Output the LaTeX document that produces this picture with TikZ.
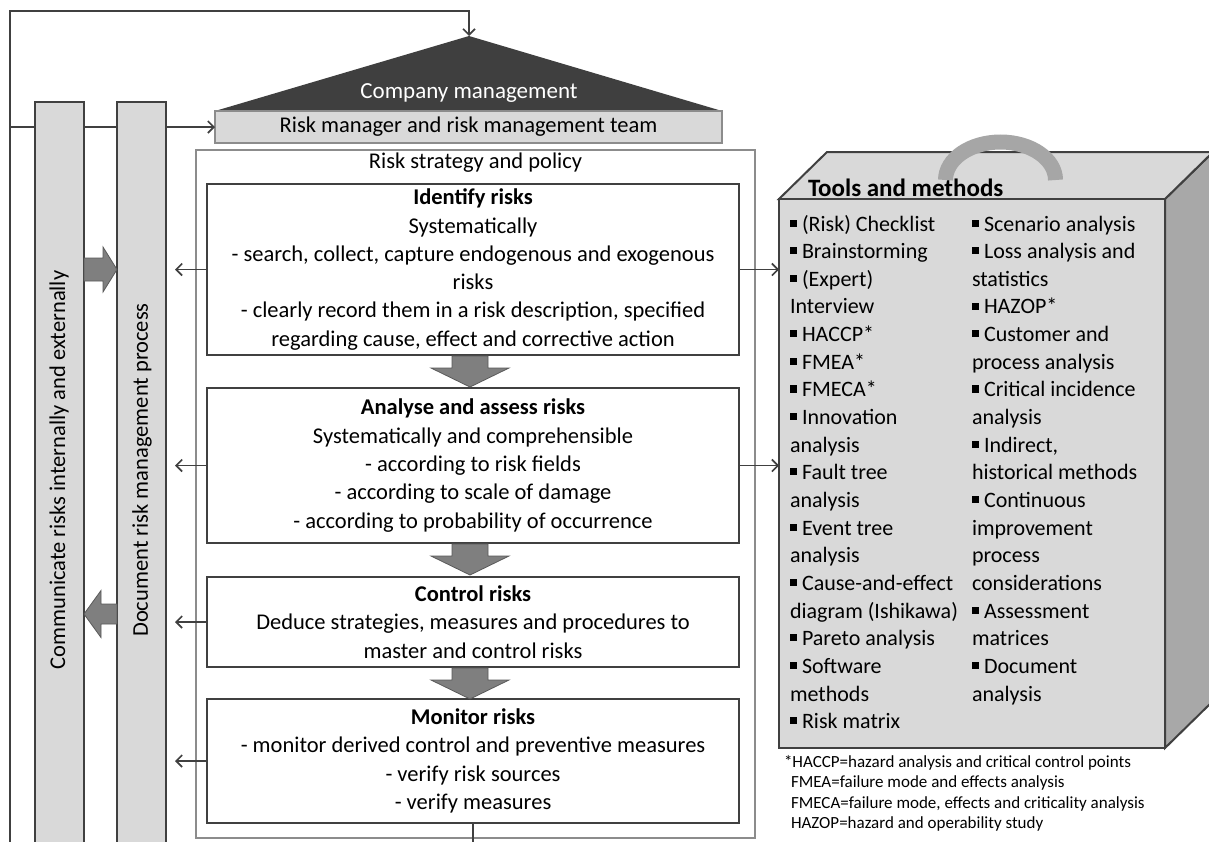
\documentclass[tikz,border=0pt]{standalone}
\usepackage{fontspec}
\setmainfont{Carlito}
\usetikzlibrary{arrows.meta}
\definecolor{ink}{HTML}{404040}
\definecolor{roof}{HTML}{3F3F3F}
\definecolor{panel}{HTML}{D9D9D9}
\definecolor{sideface}{HTML}{A8A8A8}
\definecolor{handlegray}{HTML}{A6A6A6}
\definecolor{fatgray}{HTML}{7F7F7F}
\definecolor{fatedge}{HTML}{5A5A5A}
\definecolor{frame}{HTML}{8C8C8C}
\newcommand\sqb{\rule[0.2em]{0.32em}{0.32em}}
\begin{document}
\begin{tikzpicture}[x=1pt,y=-1pt,
  every node/.style={font=\fontsize{22.5}{28.3}\selectfont, inner sep=0pt, outer sep=0pt},
  link/.style={draw=ink, line width=1.6pt, -{Straight Barb[length=6pt,width=12pt,line width=1.6pt]}},
  plain/.style={draw=ink, line width=1.6pt},
  stepbox/.style={draw=ink, line width=2pt, fill=white, minimum width=532pt, align=center},
  sidebar/.style={draw=ink, line width=2pt, fill=panel, minimum width=49pt, minimum height=743pt},
  fat/.style={fill=fatgray, draw=fatedge, line width=0.8pt},
  toolline/.style={anchor=base west, font=\fontsize{22}{28}\selectfont},
  notefont/.style={font=\fontsize{17}{20}\selectfont, anchor=base west},
  downfat/.pic={\path[fat] (-18,0) -- (18,0) -- (18,12) -- (39,12) -- (0,31) -- (-39,12) -- (-18,12) -- cycle;},
  rightfat/.pic={\path[fat] (0,-11.5) -- (19,-11.5) -- (19,-22.5) -- (33,0) -- (19,22.5) -- (19,11.5) -- (0,11.5) -- cycle;},
  leftfat/.pic={\path[fat] (0,-10) -- (-16,-10) -- (-16,-23.5) -- (-33,0) -- (-16,23.5) -- (-16,10) -- (0,10) -- cycle;}
]
\clip (0,0) rectangle (1209,841);
\useasboundingbox (0,0) rectangle (1209,841);
\fill[white] (0,0) rectangle (1209,841);

% feedback loop around the left edge and the management input line
\coordinate (loopbottom) at (10,846);
\coordinate (looptop) at (10,11);
\coordinate (loopmid) at (10,127);
\coordinate (apex) at (469,36);
\draw[link] (loopbottom) -- (looptop) -| (apex);

% management: roof and team bar
\coordinate (roofleft) at (215,111);
\coordinate (roofright) at (722,111);
\fill[roof] (roofleft) -- (apex) -- (roofright) -- cycle;
\node[text=white, font=\fontsize{23}{28}\selectfont] (cm) at (469,93) {Company management};
\node[draw=frame, line width=1.3pt, fill=panel, minimum width=507pt, minimum height=32pt] (rm) at (468.5,127) {Risk manager and risk management team};
\draw[link] (loopmid) -- (rm.west);

% side bars
\node[sidebar] (comm) at (59.5,473.5) {};
\node[rotate=90] (commtxt) at (59,470) {Communicate risks internally and externally};
\node[sidebar] (doc) at (141.5,473.5) {};
\node[rotate=90] (doctxt) at (142,470) {Document risk management process};
\pic at (comm.east |- 0,269.5) {rightfat};
\pic at (doc.west |- 0,614) {leftfat};

% risk strategy frame
\node[draw=frame, line width=1.3pt, minimum width=559pt, minimum height=688pt] (rsp) at (475.5,494) {};
\node (rsptxt) at (475.5,163) {Risk strategy and policy};

% process steps
\node[stepbox, minimum height=171pt] (ident) at (473,269.5) {\textbf{Identify risks}\\Systematically\\- search, collect, capture endogenous and exogenous\\risks\\- clearly record them in a risk description, specified\\regarding cause, effect and corrective action};
\node[stepbox, minimum height=155pt] (anal) at (473,465.5) {\textbf{Analyse and assess risks}\\Systematically and comprehensible\\- according to risk fields\\- according to scale of damage\\- according to probability of occurrence};
\node[stepbox, minimum height=90pt] (ctrl) at (473,622) {\textbf{Control risks}\\Deduce strategies, measures and procedures to\\master and control risks};
\node[stepbox, minimum height=124pt] (mon) at (473,761) {\textbf{Monitor risks}\\- monitor derived control and preventive measures\\- verify risk sources\\- verify measures};

\pic at ([xshift=-3pt,yshift=-1pt]ident.south) {downfat};
\pic at ([xshift=-3pt,yshift=-1pt]anal.south) {downfat};
\pic at ([xshift=-3pt,yshift=-1pt]ctrl.south) {downfat};

% arrows to the documentation bar
\coordinate (docend) at (175,0);
\draw[link] (ident.west) -- (ident.west -| docend);
\draw[link] (anal.west) -- (anal.west -| docend);
\draw[link] (ctrl.west) -- (ctrl.west -| docend);
\draw[link] (mon.west) -- (mon.west -| docend);
\coordinate (monexit) at (473,846);
\draw[plain] (mon.south) -- (monexit);

% tool case
\fill[sideface, draw=ink, line width=2pt] (1165,199) -- (1213,152) -- (1213,701) -- (1165,748) -- cycle;
\fill[panel, draw=ink, line width=2pt] (779,199) -- (827,152) -- (1213,152) -- (1165,199) -- cycle;
\draw[handlegray, line width=15pt] (945.5,180) arc[start angle=180, end angle=360, x radius=55, y radius=38];
\node[draw=ink, line width=2pt, fill=panel, minimum width=386pt, minimum height=549pt] (tools) at (972,473.5) {};
\node[anchor=base west, font=\fontsize{25}{28}\selectfont\bfseries] (tooltitle) at (808,196) {Tools and methods};

\foreach \t [count=\i] in {{\sqb\ (Risk) Checklist},{\sqb\ Brainstorming},{\sqb\ (Expert)},{Interview},{\sqb\ HACCP*},{\sqb\ FMEA*},{\sqb\ FMECA*},{\sqb\ Innovation},{analysis},{\sqb\ Fault tree},{analysis},{\sqb\ Event tree},{analysis},{\sqb\ Cause-and-effect},{diagram (Ishikawa)},{\sqb\ Pareto analysis},{\sqb\ Software},{methods},{\sqb\ Risk matrix}}
  \node[toolline] (tl\i) at (790,{231+27.65*(\i-1)}) {\t};
\foreach \t [count=\i] in {{\sqb\ Scenario analysis},{\sqb\ Loss analysis and},{statistics},{\sqb\ HAZOP*},{\sqb\ Customer and},{process analysis},{\sqb\ Critical incidence},{analysis},{\sqb\ Indirect,},{historical methods},{\sqb\ Continuous},{improvement},{process},{considerations},{\sqb\ Assessment},{matrices},{\sqb\ Document},{analysis}}
  \node[toolline] (tr\i) at (972,{231+27.65*(\i-1)}) {\t};

\draw[link] (ident.east) -- (ident.east -| tools.west);
\draw[link] (anal.east) -- (anal.east -| tools.west);

% abbreviations
\node[notefont] (n1) at (784,767) {*HACCP=hazard analysis and critical control points};
\node[notefont] (n2) at (791,787.5) {FMEA=failure mode and effects analysis};
\node[notefont] (n3) at (791,808) {FMECA=failure mode, effects and criticality analysis};
\node[notefont] (n4) at (791,828) {HAZOP=hazard and operability study};
\end{tikzpicture}
\end{document}
